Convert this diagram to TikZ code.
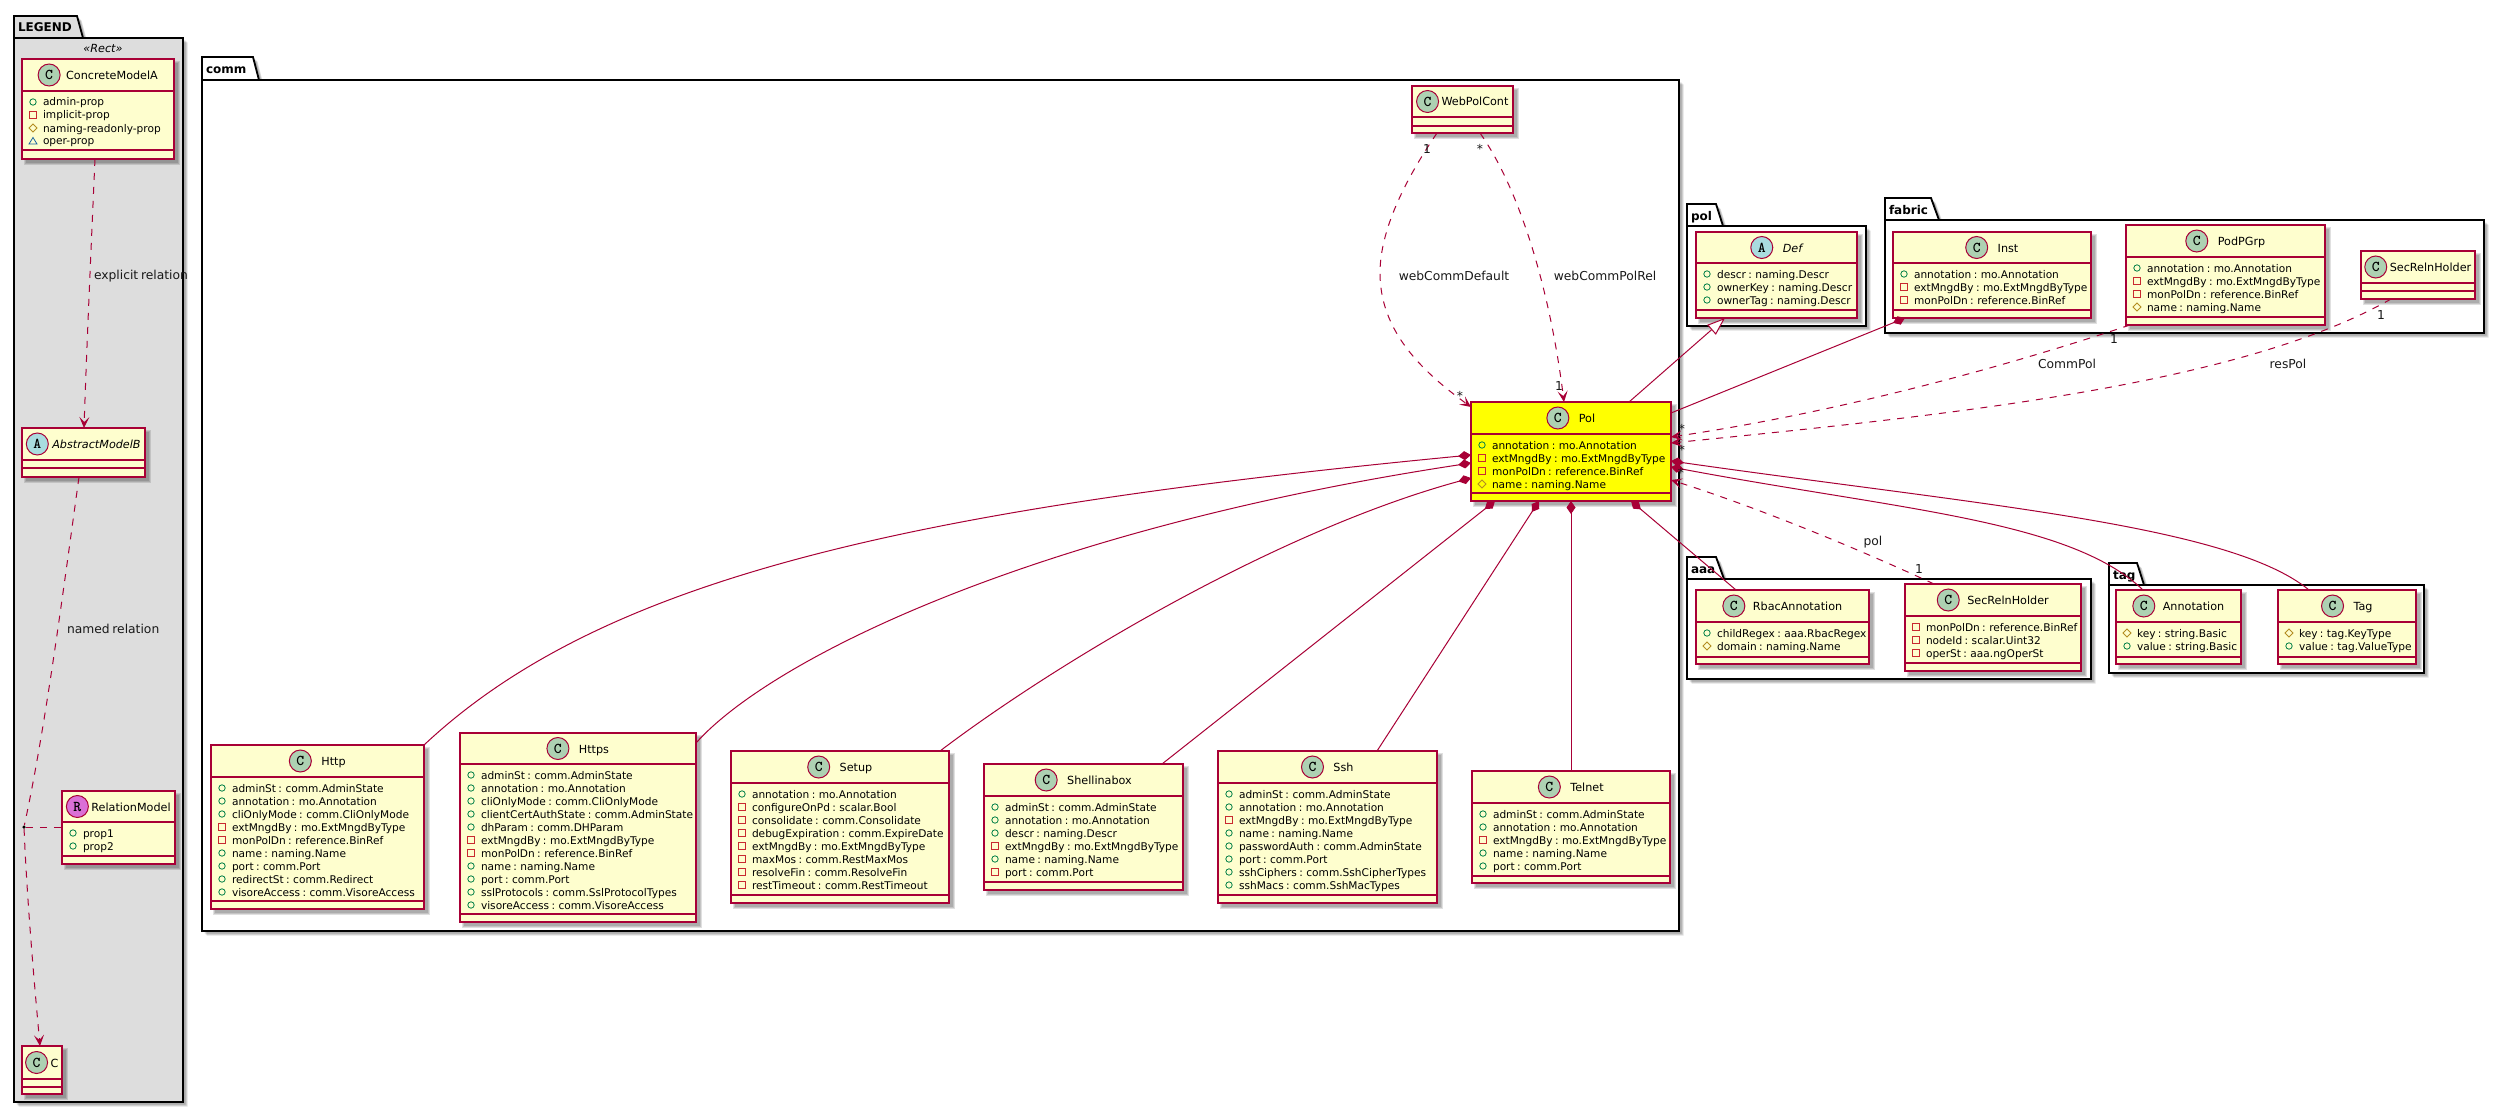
\documentclass[tikz,border=0pt]{standalone}
\usepackage{fontspec}
\setmainfont{DejaVu Sans}[WordSpace=0.7]
\usetikzlibrary{arrows.meta,calc}
\definecolor{umlred}{HTML}{A80036}
\definecolor{umlfill}{HTML}{FEFECE}
\definecolor{polfill}{RGB}{255,255,0}
\definecolor{legbg}{HTML}{DDDDDD}
\definecolor{iconC}{HTML}{ADD1B2}
\definecolor{iconA}{HTML}{A9DCDF}
\definecolor{iconR}{HTML}{DA70D6}
\definecolor{visP}{HTML}{038048}
\definecolor{visM}{HTML}{C82930}
\definecolor{visD}{HTML}{B38D22}
\definecolor{visT}{HTML}{1963A0}
\newcommand{\namefont}{\fontsize{11.2}{14}\selectfont}
\newcommand{\attrfont}{\fontsize{10.6}{13}\selectfont}
\newcommand{\labelfont}{\fontsize{12.3}{14}\selectfont}
\newcommand{\pkgfont}{\fontsize{12}{14}\selectfont\bfseries}
\tikzset{
  x=1pt,y=-1pt,
  clsbox/.style={draw=umlred,line width=1.3pt,inner sep=0,outer sep=0,rectangle},
  clsicon/.style={circle,draw=umlred,line width=1pt,inner sep=0,outer sep=0,minimum size=22pt,font=\fontsize{15}{15}\selectfont\bfseries\ttfamily},
  clsname/.style={anchor=base,inner sep=0,outer sep=0,font=\namefont},
  attrtext/.style={anchor=base west,inner sep=0,outer sep=0,font=\attrfont},
  linklabel/.style={inner sep=0,outer sep=0,font=\labelfont,text=black!90},
  pkglabel/.style={anchor=base west,inner sep=0,outer sep=0,font=\pkgfont},
  sep/.style={draw=umlred,line width=1.3pt},
  link/.style={draw=umlred,line width=1pt},
  dep/.style={link,dash pattern=on 7pt off 7pt,-{Stealth[length=11pt,width=10pt,inset=5pt]}},
  depplain/.style={link,dash pattern=on 7pt off 7pt},
  comp/.style={link,-{Diamond[length=13pt,width=9pt]}},
  gener/.style={link,-{Triangle[open,length=18pt,width=13pt,fill=white]}},
  shad/.style={fill=black,opacity=0.12,draw=none},
  pkgline/.style={draw=black,line width=1.8pt,line join=miter},
}
\newcommand{\shadow}[4]{%
  \fill[shad] (#1+2,#2+2) rectangle (#3+6,#4+6);
  \fill[shad] (#1+3,#2+3) rectangle (#3+5,#4+5);
  \fill[shad] (#1+4,#2+4) rectangle (#3+4,#4+4);
}
\newcommand{\pkg}[9]{%
  \def\pkgA{#1}\def\pkgB{#2}\def\pkgC{#3}\def\pkgD{#4}\def\pkgE{#5}\def\pkgF{#6}\def\pkgG{#7}\def\pkgH{#8}\def\pkgI{#9}\pkgnext}
\newcommand{\pkgnext}[1]{%
  \begingroup
  \foreach \d in {2.5,3.5,4.5}{
    \fill[shad,shift={(\d,\d)}] (\pkgB,\pkgC) -- (\pkgG,\pkgC) -- (\pkgH,\pkgD) -- (\pkgE,\pkgD) -- (\pkgE,\pkgF) -- (\pkgB,\pkgF) -- cycle;
  }
  \path[pkgline,fill=\pkgI] (\pkgB,\pkgC) -- (\pkgG,\pkgC) -- (\pkgH,\pkgD) -- (\pkgE,\pkgD) -- (\pkgE,\pkgF) -- (\pkgB,\pkgF) -- cycle;
  \draw[pkgline] (\pkgB,\pkgD) -- (\pkgH,\pkgD);
  \node[pkglabel] (\pkgA-label) at (\pkgB+4,\pkgD-6) {#1};
  \endgroup}
\newcommand{\cgeom}[6]{\def\xa{#1}\def\ya{#2}\def\xb{#3}\def\yb{#4}\def\yh{#5}\def\yt{#6}}
\newcommand{\cls}[7]{%
  \begingroup
  \pgfmathsetmacro{\cw}{\xb-\xa}
  \pgfmathsetmacro{\ch}{\yb-\ya}
  \pgfmathsetmacro{\cx}{(\xa+\xb)/2}
  \pgfmathsetmacro{\cy}{(\ya+\yb)/2}
  \shadow{\xa}{\ya}{\xb}{\yb}
  \node[clsbox,fill=#2,minimum width=\cw pt,minimum height=\ch pt] (#1) at (\cx,\cy) {};
  \draw[sep] (\xa,\yh) -- (\xb,\yh);
  \draw[sep] (\xa,\yt) -- (\xb,\yt);
  \pgfmathsetmacro{\hc}{(\ya+\yh)/2}
  \node[clsname] (#1-name) at (\cx+11+#6/2,\hc+4.5) {#5};
  \coordinate (#1-t) at ($(#1-name.west)+(-#6-11,0)$);
  \coordinate (#1-h) at (0,\hc);
  \node[clsicon,fill=#3] (#1-icon) at (#1-t |- #1-h) {#4};
  \foreach \vis/\txt [count=\i] in {#7}{%
    \pgfmathsetmacro{\ly}{\yh+15+13*(\i-1)}
    \ifx\txt\empty\else
    \visicon{\vis}{\xa+11}{\ly-4}
    \node[attrtext] (#1-a\i) at (\xa+21,\ly) {\txt};
    \fi
  }
  \endgroup}
\newcommand{\visicon}[3]{%
  \pgfmathsetmacro{\ix}{#2}\pgfmathsetmacro{\iy}{#3}
  \if p#1\draw[visP,line width=0.8pt] (\ix,\iy) circle[radius=3.2];\fi
  \if m#1\draw[visM,line width=0.8pt] (\ix-3.2,\iy-3.2) rectangle (\ix+3.2,\iy+3.2);\fi
  \if d#1\draw[visD,line width=0.8pt] (\ix,\iy-4) -- (\ix+4,\iy) -- (\ix,\iy+4) -- (\ix-4,\iy) -- cycle;\fi
  \if t#1\draw[visT,line width=0.8pt] (\ix,\iy-3.5) -- (\ix+4,\iy+3) -- (\ix-4,\iy+3) -- cycle;\fi
}
\begin{document}
\begin{tikzpicture}
\useasboundingbox (0,0) rectangle (2505,1113);
\fill[white] (0,0) rectangle (2505,1113);
% packages
\pkg{legend}{14}{16}{38}{183}{1102}{77}{83}{legbg}{LEGEND}
\pkg{commpkg}{202}{57}{80}{1679}{931}{253}{259}{white}{comm}
\pkg{polpkg}{1687}{204}{226}{1866}{326}{1716}{1723}{white}{pol}
\pkg{fabricpkg}{1885}{198}{220}{2484}{333}{1931}{1939}{white}{fabric}
\pkg{aaapkg}{1687}{557}{579}{2091}{679}{1716}{1724}{white}{aaa}
\pkg{tagpkg}{2109}{563}{585}{2424}{673}{2137}{2144}{white}{tag}
\node[anchor=base,inner sep=0,font=\fontsize{11.2}{14}\selectfont\itshape] (legend-stereo) at (103,53) {«Rect»};
% legend classes
\cgeom{22}{59}{174}{159}{91}{150}
\cls{ConcreteModelA}{umlfill}{iconC}{C}{ConcreteModelA}{6}{p/admin-prop,m/implicit-prop,d/naming-readonly-prop,t/oper-prop}
\cgeom{22}{428}{145}{477}{460}{468}
\cls{AbstractModelB}{umlfill}{iconA}{A}{\itshape AbstractModelB}{4}{}
\cgeom{62}{791}{175}{864}{822}{856}
\cls{RelationModel}{umlfill}{iconR}{R}{RelationModel}{3}{p/prop1,p/prop2}
\cgeom{22}{1046}{62}{1094}{1079}{1087}
\cls{Cls}{umlfill}{iconC}{C}{C}{3}{}
\node[circle,fill=black,inner sep=0,outer sep=0,minimum size=3.5pt] (reldot) at (24,827) {};
% comm classes
\cgeom{1412}{86}{1513}{133}{117}{126}
\cls{WebPolCont}{umlfill}{iconC}{C}{WebPolCont}{3}{}
\cgeom{1471}{402}{1671}{501}{434}{493}
\cls{Pol}{polfill}{iconC}{C}{Pol}{10}{p/annotation : mo.Annotation,m/extMngdBy : mo.ExtMngdByType,m/monPolDn : reference.BinRef,d/name : naming.Name}
\cgeom{211}{745}{424}{909}{777}{901}
\cls{Http}{umlfill}{iconC}{C}{Http}{10}{p/adminSt : comm.AdminState,p/annotation : mo.Annotation,p/cliOnlyMode : comm.CliOnlyMode,m/extMngdBy : mo.ExtMngdByType,m/monPolDn : reference.BinRef,p/name : naming.Name,p/port : comm.Port,p/redirectSt : comm.Redirect,p/visoreAccess : comm.VisoreAccess}
\cgeom{460}{733}{696}{922}{764}{914}
\cls{Https}{umlfill}{iconC}{C}{Https}{10}{p/adminSt : comm.AdminState,p/annotation : mo.Annotation,p/cliOnlyMode : comm.CliOnlyMode,p/clientCertAuthState : comm.AdminState,p/dhParam : comm.DHParam,m/extMngdBy : mo.ExtMngdByType,m/monPolDn : reference.BinRef,p/name : naming.Name,p/port : comm.Port,p/sslProtocols : comm.SslProtocolTypes,p/visoreAccess : comm.VisoreAccess}
\cgeom{731}{751}{949}{903}{783}{895}
\cls{Setup}{umlfill}{iconC}{C}{Setup}{10}{p/annotation : mo.Annotation,m/configureOnPd : scalar.Bool,m/consolidate : comm.Consolidate,m/debugExpiration : comm.ExpireDate,m/extMngdBy : mo.ExtMngdByType,m/maxMos : comm.RestMaxMos,m/resolveFin : comm.ResolveFin,m/restTimeout : comm.RestTimeout}
\cgeom{984}{764}{1183}{890}{796}{882}
\cls{Shellinabox}{umlfill}{iconC}{C}{Shellinabox}{10}{p/adminSt : comm.AdminState,p/annotation : mo.Annotation,p/descr : naming.Descr,m/extMngdBy : mo.ExtMngdByType,p/name : naming.Name,m/port : comm.Port}
\cgeom{1218}{751}{1437}{903}{783}{895}
\cls{Ssh}{umlfill}{iconC}{C}{Ssh}{10}{p/adminSt : comm.AdminState,p/annotation : mo.Annotation,m/extMngdBy : mo.ExtMngdByType,p/name : naming.Name,p/passwordAuth : comm.AdminState,p/port : comm.Port,p/sshCiphers : comm.SshCipherTypes,p/sshMacs : comm.SshMacTypes}
\cgeom{1472}{771}{1670}{883}{803}{876}
\cls{Telnet}{umlfill}{iconC}{C}{Telnet}{10}{p/adminSt : comm.AdminState,p/annotation : mo.Annotation,m/extMngdBy : mo.ExtMngdByType,p/name : naming.Name,p/port : comm.Port}
% pol
\cgeom{1696}{232}{1857}{318}{263}{310}
\cls{Def}{umlfill}{iconA}{A}{\itshape Def}{10}{p/descr : naming.Descr,p/ownerKey : naming.Descr,p/ownerTag : naming.Descr}
% fabric
\cgeom{1893}{232}{2091}{318}{263}{310}
\cls{Inst}{umlfill}{iconC}{C}{Inst}{10}{p/annotation : mo.Annotation,m/extMngdBy : mo.ExtMngdByType,m/monPolDn : reference.BinRef}
\cgeom{2126}{225}{2325}{325}{257}{317}
\cls{PodPGrp}{umlfill}{iconC}{C}{PodPGrp}{10}{p/annotation : mo.Annotation,m/extMngdBy : mo.ExtMngdByType,m/monPolDn : reference.BinRef,d/name : naming.Name}
\cgeom{2361}{251}{2475}{299}{283}{291}
\cls{FabSecRelnHolder}{umlfill}{iconC}{C}{SecRelnHolder}{3}{}
% aaa
\cgeom{1696}{590}{1869}{664}{622}{657}
\cls{RbacAnnotation}{umlfill}{iconC}{C}{RbacAnnotation}{8}{p/childRegex : aaa.RbacRegex,d/domain : naming.Name}
\cgeom{1905}{584}{2081}{671}{616}{663}
\cls{AaaSecRelnHolder}{umlfill}{iconC}{C}{SecRelnHolder}{8}{m/monPolDn : reference.BinRef,m/nodeId : scalar.Uint32,m/operSt : aaa.ngOperSt}
% tag
\cgeom{2116}{590}{2241}{664}{622}{657}
\cls{Annotation}{umlfill}{iconC}{C}{Annotation}{8}{d/key : string.Basic,p/value : string.Basic}
\cgeom{2278}{590}{2416}{664}{622}{657}
\cls{Tag}{umlfill}{iconC}{C}{Tag}{10}{d/key : tag.KeyType,p/value : tag.ValueType}
% legend connectors
\draw[dep] ($(ConcreteModelA.south west)+(73,0)$) .. controls (91,250) and (87,340) .. ($(AbstractModelB.north west)+(62,0)$);
\draw[depplain] ($(AbstractModelB.south west)+(57,0)$) .. controls (62,600) and (45,730) .. (reldot);
\draw[dep] (reldot) .. controls (27,900) and (34,980) .. ($(Cls.north west)+(18,0)$);
\draw[depplain] (reldot) -- (reldot -| RelationModel.west);
% composition connectors
\draw[comp] (Http.north east) .. controls (600,580) and (900,510) .. ($(Pol.north west)+(0,53)$);
\draw[comp] ($(Https.north east)+(0,10)$) .. controls (770,660) and (1030,530) .. ($(Pol.north west)+(0,61)$);
\draw[comp] ($(Setup.north east)+(-9,0)$) .. controls (1060,660) and (1280,530) .. ($(Pol.north west)+(0,76)$);
\draw[comp] ($(Shellinabox.north east)+(-21,0)$) -- ($(Pol.south west)+(24,0)$);
\draw[comp] ($(Ssh.north east)+(-60,0)$) -- ($(Pol.south west)+(68,0)$);
\draw[comp] (Telnet.north) -- (Pol.south);
\draw[comp] ($(RbacAnnotation.north west)+(40,0)$) -- ($(Pol.south west)+(160,0)$);
\draw[comp] ($(Pol.north east)+(0,11)$) -- ($(Inst.south west)+(12,0)$);
\draw[gener] ($(Pol.north west)+(158,0)$) -- ($(Def.south west)+(29,0)$);
\draw[comp] ($(Annotation.north west)+(27,0)$) .. controls (2070,520) and (1900,510) .. ($(Pol.north east)+(0,65)$);
\draw[comp] ($(Tag.north west)+(31,0)$) .. controls (2230,525) and (1980,505) .. ($(Pol.north east)+(0,59)$);
% dependency connectors
\draw[dep] ($(WebPolCont.south west)+(25,0)$) .. controls (1405,180) and (1380,230) .. (1380,273) .. controls (1380,330) and (1420,370) .. ($(Pol.north west)+(0,5)$);
\draw[dep] ($(WebPolCont.south west)+(68,0)$) .. controls (1520,190) and (1550,290) .. ($(Pol.north west)+(93,0)$);
\draw[dep] ($(PodPGrp.south west)+(4,0)$) .. controls (1980,375) and (1820,415) .. ($(Pol.north east)+(0,35)$);
\draw[dep] ($(FabSecRelnHolder.south west)+(30,0)$) .. controls (2240,385) and (1950,415) .. ($(Pol.north east)+(0,41)$);
\draw[dep] ($(AaaSecRelnHolder.north west)+(29,0)$) .. controls (1850,545) and (1750,505) .. ($(Pol.north east)+(0,78)$);
% link labels
\node[linklabel,anchor=west] (l-explicit) at (94,276) {explicit relation};
\node[linklabel,anchor=west] (l-named) at (67,629) {named relation};
\node[linklabel] (l-default) at (1454,276) {webCommDefault};
\node[linklabel] (l-rel) at (1605,276) {webCommPolRel};
\node[linklabel] (l-commpol) at (2067,364) {CommPol};
\node[linklabel] (l-respol) at (2288,364) {resPol};
\node[linklabel] (l-pol) at (1873,542) {pol};
\node[linklabel] (m1) at (1427,149) {1};
\node[linklabel] (m2) at (1480,149) {*};
\node[linklabel] (m3) at (1460,396) {*};
\node[linklabel] (m4) at (1559,386) {1};
\node[linklabel] (m5) at (2114,339) {1};
\node[linklabel] (m6) at (2381,315) {1};
\node[linklabel] (m7) at (1919,569) {1};
\node[linklabel] (m8) at (1682,429) {*};
\node[linklabel] (m9) at (1682,450) {*};
\node[linklabel] (m10) at (1681,473) {*};
\end{tikzpicture}
\end{document}
